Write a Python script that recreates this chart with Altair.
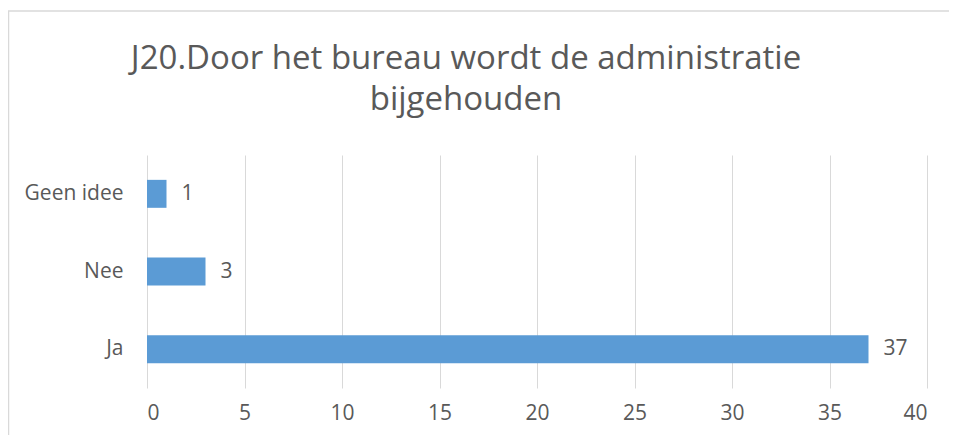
import altair as alt
import pandas as pd

categories = ["Geen idee", "Nee", "Ja"]
values = [1, 3, 37]
x_ticks = [0, 5, 10, 15, 20, 25, 30, 35, 40]
title_lines = ["J20.Door het bureau wordt de administratie", "bijgehouden"]

df = pd.DataFrame({"antwoord": categories, "aantal": values})

FONT = "Open Sans"
GREY = "#595959"
LABEL_SIZE = 21

y_enc = alt.Y("antwoord:N", sort=categories, title=None,
              scale=alt.Scale(paddingInner=0.64, paddingOuter=0.32),
              axis=alt.Axis(ticks=False, domain=False, labelPadding=24,
                            labelFontSize=LABEL_SIZE, labelColor=GREY, labelFont=FONT))
x_enc = alt.X("aantal:Q", title=None,
              scale=alt.Scale(domain=[0, 40], nice=False),
              axis=alt.Axis(values=x_ticks, ticks=False, domain=False, labelPadding=14,
                            labelFontSize=LABEL_SIZE, labelColor=GREY, labelFont=FONT,
                            grid=True, gridColor="#D9D9D9", gridWidth=1))

bars = alt.Chart(df).mark_bar(color="#5B9BD5").encode(x=x_enc, y=y_enc)
labels = alt.Chart(df).mark_text(align="left", baseline="middle", dx=15,
                                 fontSize=LABEL_SIZE, color=GREY, font=FONT).encode(
    x="aantal:Q", y=alt.Y("antwoord:N", sort=categories), text="aantal:Q")

frame = alt.Chart(alt.Data(values=[{}])).mark_rect(
    fill=None, stroke="#D9D9D9", strokeWidth=1.5, clip=False).encode(
    x=alt.value(-138.5), x2=alt.value(812), y=alt.value(-144), y2=alt.value(290))

chart = alt.layer(frame, bars, labels).properties(
    width=780, height=233,
    autosize=alt.AutoSizeParams(type="none"),
    padding={"left": 139, "top": 147, "right": 22, "bottom": 47},
    title=alt.TitleParams(title_lines, fontSize=33, font=FONT, color=GREY,
                          fontWeight="normal", anchor="middle", dx=-71,
                          offset=-107, lineHeight=41),
).configure_view(stroke=None)

chart.save("out.html", embed_options={"renderer": "svg", "actions": False})
